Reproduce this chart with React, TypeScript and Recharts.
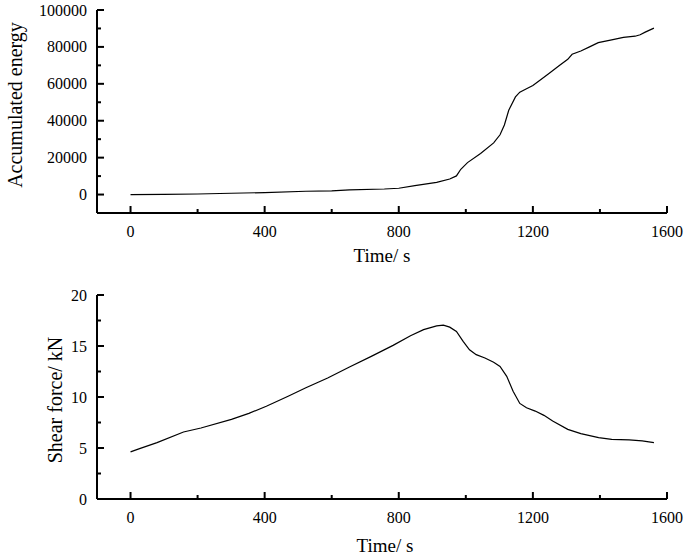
import { LineChart, Line, XAxis, YAxis, Label } from "recharts";

const timeTicks = [0, 200, 400, 600, 800, 1000, 1200, 1400, 1600];
const timeMajor = [0, 400, 800, 1200, 1600];
const energyTicks = [0, 10000, 20000, 30000, 40000, 50000, 60000, 70000, 80000, 90000, 100000];
const energyMajor = [0, 20000, 40000, 60000, 80000, 100000];
const forceTicks = [0, 2.5, 5, 7.5, 10, 12.5, 15, 17.5, 20];
const forceMajor = [0, 5, 10, 15, 20];

const energyTime = [
  0, 100, 200, 300, 400, 523, 600, 653, 757, 800, 848, 913, 952, 972, 985, 1005, 1044, 1083, 1102,
  1115, 1128, 1148, 1161, 1181, 1200, 1220, 1246, 1278, 1304, 1317, 1343, 1369, 1395, 1435, 1470,
  1505, 1520, 1535, 1561,
];
const energyValues = [
  0, 50, 300, 700, 1070, 1780, 2000, 2500, 3000, 3400, 4800, 6600, 8400, 10100, 13700, 17300, 22250,
  28000, 32400, 37700, 45700, 52900, 55500, 57300, 59100, 61800, 65300, 69800, 73300, 76000, 77800,
  80000, 82300, 83800, 85200, 85800, 86600, 88000, 90200,
];

const forceTime = [
  0, 27, 79, 158, 210, 301, 353, 405, 470, 523, 588, 653, 718, 783, 835, 874, 913, 933, 952, 972, 992,
  1011, 1031, 1057, 1083, 1102, 1122, 1141, 1161, 1181, 1207, 1233, 1259, 1304, 1343, 1396, 1435,
  1487, 1526, 1561,
];
const forceValues = [
  4.62, 4.94, 5.53, 6.57, 6.96, 7.8, 8.39, 9.1, 10.08, 10.9, 11.87, 12.94, 13.98, 15.06, 16.0, 16.6,
  16.98, 17.04, 16.85, 16.42, 15.45, 14.63, 14.15, 13.82, 13.4, 13.0, 12.03, 10.57, 9.37, 8.94, 8.62,
  8.2, 7.64, 6.83, 6.41, 6.02, 5.85, 5.79, 5.69, 5.53,
];

const energyData = energyTime.map((t, i) => ({ t, v: energyValues[i] }));
const forceData = forceTime.map((t, i) => ({ t, v: forceValues[i] }));

const FONT = "'Liberation Serif', 'Times New Roman', serif";

function XTick(props: any) {
  const { x, y, payload, majors } = props;
  const major = majors.includes(payload.value);
  return (
    <g>
      <line x1={x} x2={x} y1={y} y2={y - (major ? 7 : 4)} stroke="#000" strokeWidth={2} />
      {major && (
        <text x={x} y={y + 24} textAnchor="middle" fontFamily={FONT} fontSize={16} fill="#000">
          {payload.value}
        </text>
      )}
    </g>
  );
}

function YTick(props: any) {
  const { x, y, payload, majors } = props;
  const major = majors.includes(payload.value);
  return (
    <g>
      <line x1={x} x2={x + (major ? 7 : 4)} y1={y} y2={y} stroke="#000" strokeWidth={2} />
      {major && (
        <text x={x - 10} y={y + 5.5} textAnchor="end" fontFamily={FONT} fontSize={16} fill="#000">
          {payload.value}
        </text>
      )}
    </g>
  );
}

function Panel(props: any) {
  const { data, yDomain, yTicks, yMajor, xLabel, yLabel, plotTop, axisH } = props;
  return (
    <LineChart width={685} height={275} data={data} margin={{ top: plotTop, right: 18, left: 0, bottom: 0 }}>
      <XAxis
        dataKey="t"
        type="number"
        domain={[-100, 1600]}
        ticks={timeTicks}
        interval={0}
        height={axisH}
        tickSize={0}
        tickMargin={0}
        tickLine={false}
        axisLine={{ stroke: "#000", strokeWidth: 2 }}
        tick={(p: any) => <XTick {...p} majors={timeMajor} />}
      >
        <Label
          content={() => (
            <text x={xLabel.x} y={xLabel.y} textAnchor="middle" fontFamily={FONT} fontSize={19} fill="#000">
              Time/ s
            </text>
          )}
        />
      </XAxis>
      <YAxis
        type="number"
        domain={yDomain}
        ticks={yTicks}
        interval={0}
        width={97}
        tickSize={0}
        tickMargin={0}
        tickLine={false}
        axisLine={{ stroke: "#000", strokeWidth: 2 }}
        tick={(p: any) => <YTick {...p} majors={yMajor} />}
      >
        <Label
          content={() => (
            <text
              x={yLabel.x}
              y={yLabel.y}
              transform={`rotate(-90 ${yLabel.x} ${yLabel.y})`}
              textAnchor="middle"
              dominantBaseline="central"
              fontFamily={FONT}
              fontSize={20}
              fill="#000"
            >
              {yLabel.text}
            </text>
          )}
        />
      </YAxis>
      <Line type="linear" dataKey="v" stroke="#000" strokeWidth={1.2} dot={false} isAnimationActive={false} />
    </LineChart>
  );
}

export default function App() {
  return (
    <div style={{ position: "absolute", left: 0, top: 0, width: 685, height: 555, background: "#fff" }}>
      <div style={{ position: "absolute", left: 0, top: 0 }}>
        <Panel
          data={energyData}
          yDomain={[-10000, 100000]}
          yTicks={energyTicks}
          yMajor={energyMajor}
          plotTop={10}
          axisH={62}
          xLabel={{ x: 382, y: 262 }}
          yLabel={{ x: 15, y: 105, text: "Accumulated energy" }}
        />
      </div>
      <div style={{ position: "absolute", left: 0, top: 280 }}>
        <Panel
          data={forceData}
          yDomain={[0, 20]}
          yTicks={forceTicks}
          yMajor={forceMajor}
          plotTop={15}
          axisH={56}
          xLabel={{ x: 385, y: 272 }}
          yLabel={{ x: 55, y: 120, text: "Shear force/ kN" }}
        />
      </div>
    </div>
  );
}
